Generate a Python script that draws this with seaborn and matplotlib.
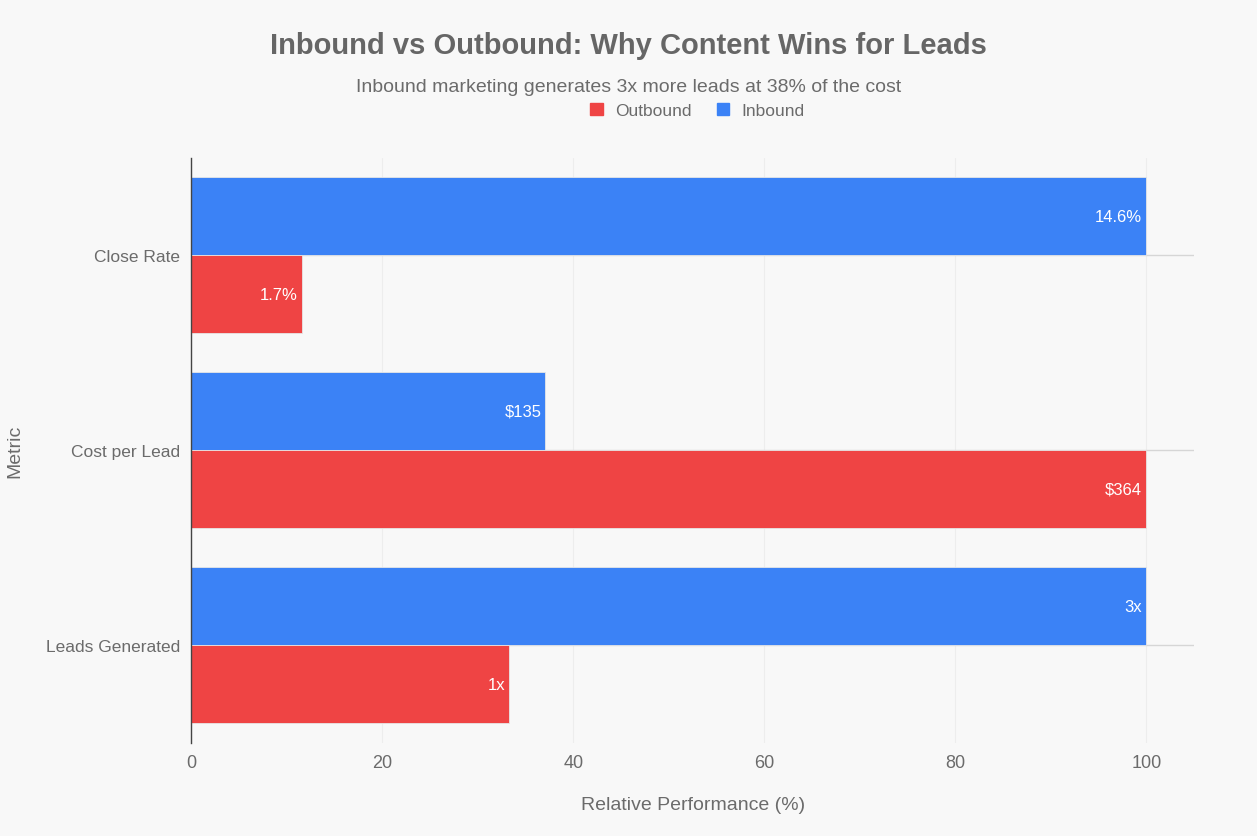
import pandas as pd
import matplotlib.pyplot as plt
import seaborn as sns
from matplotlib.patches import Patch

metrics = ["Close Rate", "Cost per Lead", "Leads Generated"]
inbound_pct = [100.0, 37.1, 100.0]
outbound_pct = [11.6, 100.0, 33.3]
inbound_text = ["14.6%", "$135", "3x"]
outbound_text = ["1.7%", "$364", "1x"]

RED = "#EF4444"
BLUE = "#3B82F6"
BG = "#F8F8F8"
TXT = "#6B6B6B"

df = pd.DataFrame({
    "Metric": metrics * 2,
    "Value": inbound_pct + outbound_pct,
    "Channel": ["Inbound"] * 3 + ["Outbound"] * 3,
})

sns.set_theme(style="white")
plt.rcParams["font.family"] = ["Liberation Sans", "DejaVu Sans"]

fig = plt.figure(figsize=(12.57, 8.37), dpi=100, facecolor=BG)
ax = fig.add_axes([0.152, 0.1115, 0.798, 0.699])
ax.set_facecolor(BG)

sns.barplot(data=df, x="Value", y="Metric", hue="Channel", order=metrics,
            hue_order=["Inbound", "Outbound"], palette={"Inbound": BLUE, "Outbound": RED},
            orient="h", width=0.8, saturation=1, legend=False, ax=ax, zorder=2,
            edgecolor="#E6E6E6", linewidth=0.6)

for container, texts in zip(ax.containers, [inbound_text, outbound_text]):
    for bar, t in zip(container, texts):
        ax.annotate(t, (bar.get_width(), bar.get_y() + bar.get_height() / 2),
                    xytext=(-3, 0), textcoords="offset points", ha="right", va="center",
                    color="white", fontsize=12)

ax.set_xlim(0, 105)
ax.set_ylim(2.5, -0.5)
ax.set_xticks([0, 20, 40, 60, 80, 100])
ax.grid(axis="x", color="#EDEDED", linewidth=0.8, zorder=0)
ax.grid(axis="y", color="#D6D6D6", linewidth=1, zorder=0)
ax.set_axisbelow(True)
for s in ["top", "right", "bottom"]:
    ax.spines[s].set_visible(False)
ax.spines["left"].set_color("#444444")
ax.spines["left"].set_linewidth(1)
ax.tick_params(axis="both", colors=TXT, labelsize=12.5, length=0, pad=8)
ax.tick_params(axis="x", labelsize=13)
ax.set_xlabel("Relative Performance (%)", fontsize=14, color=TXT, labelpad=18)
ax.set_ylabel("Metric", fontsize=14, color=TXT, labelpad=16)

fig.text(0.5, 0.945, "Inbound vs Outbound: Why Content Wins for Leads", ha="center", va="center",
         fontsize=21, fontweight="bold", color="#666666")
fig.text(0.5, 0.895, "Inbound marketing generates 3x more leads at 38% of the cost", ha="center",
         va="center", fontsize=14, color=TXT)

handles = [Patch(color=RED, label="Outbound"), Patch(color=BLUE, label="Inbound")]
fig.legend(handles=handles, loc="center", bbox_to_anchor=(0.555, 0.867), ncol=2, frameon=False,
           fontsize=12.5, labelcolor=TXT, handlelength=0.7, handleheight=0.7, columnspacing=1.5,
           handletextpad=0.7)

plt.savefig("out.png", dpi=100, facecolor=BG)
plt.close()
